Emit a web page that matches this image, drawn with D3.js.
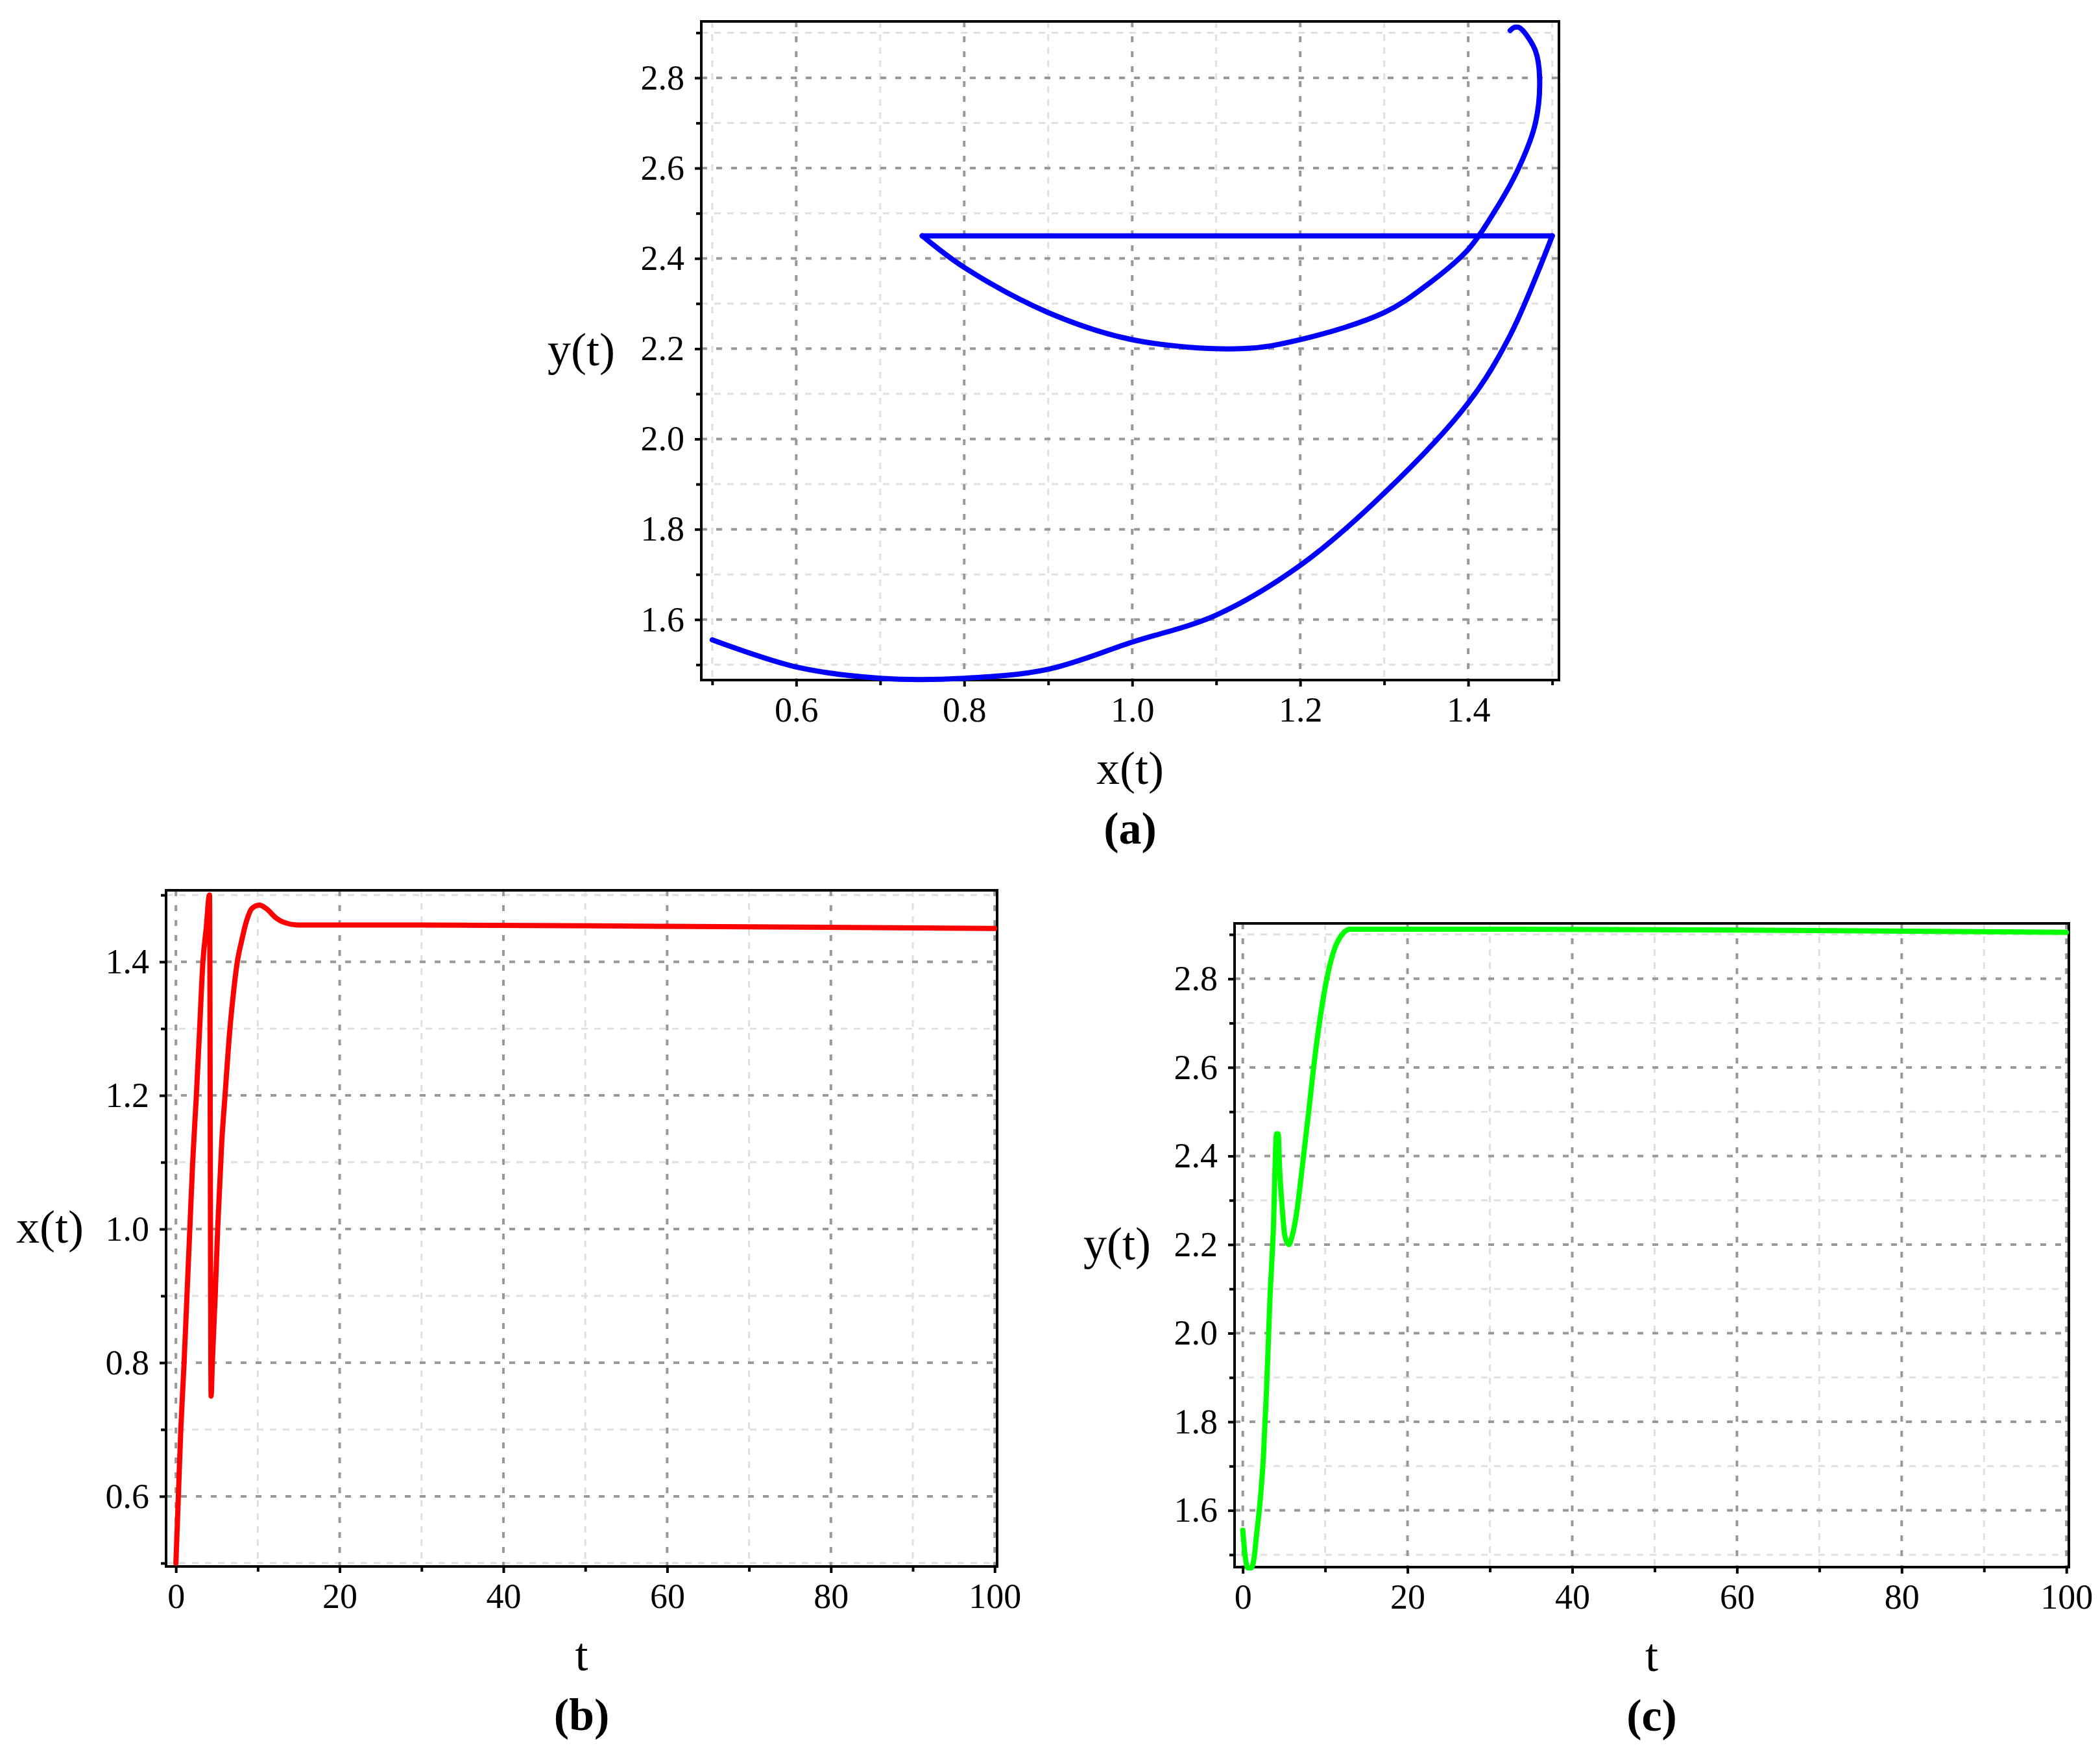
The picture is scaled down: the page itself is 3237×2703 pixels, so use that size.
<!DOCTYPE html>
<html><head><meta charset="utf-8">
<script src="https://cdn.jsdelivr.net/npm/d3@7"></script>
<style>body{margin:0;background:#fff}svg{display:block}</style>
</head><body>
<script>
const tVals = [0,0.3,0.6,1.0,1.35,1.7,2.05,2.5,2.9,3.3,3.7,4.1,4.3,4.45,4.8,5.1,5.6,6.0,6.6,7.0,7.5,8.0,8.6,9.3,10.2,11,12.3,13,15,30,60,100];
const xVals = [0.50,0.60,0.70,0.80,0.90,1.00,1.10,1.20,1.30,1.40,1.45,1.50,0.75,0.80,0.90,1.00,1.13,1.20,1.30,1.35,1.40,1.43,1.46,1.48,1.485,1.48,1.465,1.46,1.455,1.455,1.453,1.45];
const yVals = [1.555,1.495,1.47,1.47,1.49,1.55,1.61,1.72,1.88,2.08,2.23,2.45,2.45,2.38,2.28,2.22,2.20,2.22,2.28,2.34,2.42,2.50,2.60,2.70,2.80,2.86,2.905,2.912,2.912,2.912,2.91,2.905];
const xTicks = [0.6,0.8,1.0,1.2,1.4];
const yTicks = [1.6,1.8,2.0,2.2,2.4,2.6,2.8];
const tTicks = [0,20,40,60,80,100];
const panelLabels = ["(a)","(b)","(c)"];

const W=3237,H=2703;
const svg=d3.select("body").append("svg").attr("width",W).attr("height",H).style("font-family","'Liberation Serif',serif");

function panel(o){
  const g=svg.append("g");
  const x=d3.scaleLinear().domain(o.xd).range([o.l,o.r]);
  const y=d3.scaleLinear().domain(o.yd).range([o.b,o.t]);
  const xMinor=d3.range(o.xMin[0],o.xMin[1]+1e-9,o.xMin[2]);
  const yMinor=d3.range(o.yMin[0],o.yMin[1]+1e-9,o.yMin[2]);
  const isMaj=(v,arr)=>arr.some(a=>Math.abs(a-v)<1e-6);
  const xm=xMinor.filter(v=>!isMaj(v,o.xt)&&x(v)>=o.l&&x(v)<=o.r);
  const ym=yMinor.filter(v=>!isMaj(v,o.yt)&&y(v)<=o.b&&y(v)>=o.t);
  g.selectAll(null).data(xm).join("line")
   .attr("x1",d=>x(d)).attr("x2",d=>x(d)).attr("y1",o.t).attr("y2",o.b).attr("stroke","#e0e0e0").attr("stroke-width",3).attr("stroke-dasharray","10,10");
  g.selectAll(null).data(ym).join("line")
   .attr("y1",d=>y(d)).attr("y2",d=>y(d)).attr("x1",o.l).attr("x2",o.r).attr("stroke","#e0e0e0").attr("stroke-width",3).attr("stroke-dasharray","10,10");
  g.selectAll(null).data(o.xt).join("line")
   .attr("x1",d=>x(d)).attr("x2",d=>x(d)).attr("y1",o.t).attr("y2",o.b).attr("stroke","#999").attr("stroke-width",4).attr("stroke-dasharray","9,14");
  g.selectAll(null).data(o.yt).join("line")
   .attr("y1",d=>y(d)).attr("y2",d=>y(d)).attr("x1",o.l).attr("x2",o.r).attr("stroke","#999").attr("stroke-width",4).attr("stroke-dasharray","9,14");
  const ax=g.append("g").attr("transform",`translate(0,${o.b})`).call(d3.axisBottom(x).tickValues(o.xt).tickFormat(o.xf).tickSize(10).tickPadding(16));
  const axm=g.append("g").attr("transform",`translate(0,${o.b})`).call(d3.axisBottom(x).tickValues(xm).tickFormat("").tickSize(8));
  const ay=g.append("g").attr("transform",`translate(${o.l},0)`).call(d3.axisLeft(y).tickValues(o.yt).tickFormat(d3.format(".1f")).tickSize(10).tickPadding(16));
  const aym=g.append("g").attr("transform",`translate(${o.l},0)`).call(d3.axisLeft(y).tickValues(ym).tickFormat("").tickSize(8));
  [ax,axm,ay,aym].forEach(a=>{a.select(".domain").remove();a.selectAll("line").attr("stroke","#000").attr("stroke-width",4);
    a.selectAll("text").attr("font-size",54).attr("fill","#000").style("font-family","'Liberation Serif',serif");});
  g.append("rect").attr("x",o.l).attr("y",o.t).attr("width",o.r-o.l).attr("height",o.b-o.t).attr("fill","none").attr("stroke","#000").attr("stroke-width",4);
  let segs=[o.data];
  if(o.param){
    // split at the discontinuity (jump in x) so each arc can be smoothed
    const j=o.data.findIndex((d,i)=>i>0&&d[0]<o.data[i-1][0]-0.3);
    segs=[o.data.slice(0,j),o.data.slice(j-1,j+1),o.data.slice(j)];
  }
  const line=d3.line().x(d=>x(d[0])).y(d=>y(d[1])).curve(o.param?d3.curveCatmullRom.alpha(0.5):d3.curveMonotoneX);
  segs.forEach(s=>g.append("path").datum(s).attr("d",line).attr("fill","none").attr("stroke",o.color).attr("stroke-width",8).attr("stroke-linejoin","round").attr("stroke-linecap","round"));
  g.append("text").attr("x",(o.l+o.r)/2).attr("y",o.b+160).attr("text-anchor","middle").attr("font-size",72).text(o.xl);
  g.append("text").attr("x",o.yx).attr("y",(o.t+o.b)/2+22).attr("text-anchor","middle").attr("font-size",72).text(o.yl);
  g.append("text").attr("x",(o.l+o.r)/2).attr("y",o.b+252).attr("text-anchor","middle").attr("font-size",70).attr("font-weight","bold").text(o.pl);
}

panel({l:1081,r:2403,t:33,b:1048,xd:[0.487,1.508],yd:[1.466,2.925],xt:xTicks,yt:yTicks,
  xMin:[0.5,1.5,0.1],yMin:[1.5,2.9,0.1],xf:d3.format(".1f"),param:true,
  data:xVals.map((v,i)=>[v,yVals[i]]),color:"#0000ff",xl:"x(t)",yl:"y(t)",yx:896,pl:panelLabels[0]});
panel({l:256,r:1537,t:1372,b:2414,xd:[-1.2,100.3],yd:[0.495,1.507],xt:tTicks,yt:[0.6,0.8,1.0,1.2,1.4],
  xMin:[0,100,10],yMin:[0.5,1.5,0.1],xf:d3.format("d"),
  data:tVals.map((v,i)=>[v,xVals[i]]),color:"#ff0000",xl:"t",yl:"x(t)",yx:77,pl:panelLabels[1]});
panel({l:1903,r:3189,t:1423,b:2415,xd:[-1.0,100.3],yd:[1.472,2.925],xt:tTicks,yt:yTicks,
  xMin:[0,100,10],yMin:[1.5,2.9,0.1],xf:d3.format("d"),
  data:tVals.map((v,i)=>[v,yVals[i]]),color:"#00ff00",xl:"t",yl:"y(t)",yx:1722,pl:panelLabels[2]});
</script>
</body></html>
